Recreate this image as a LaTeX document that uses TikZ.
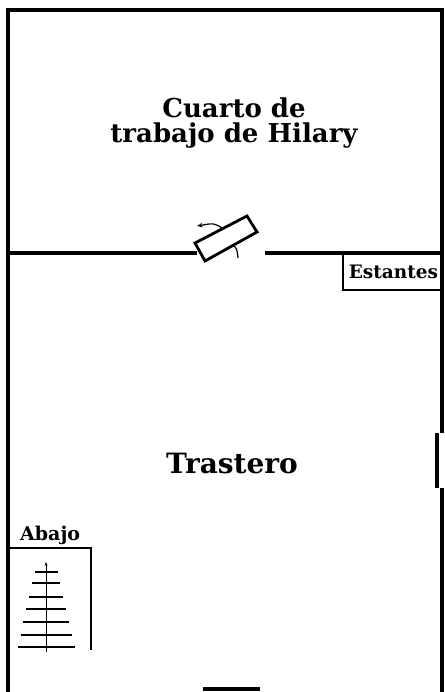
\documentclass[tikz,border=0pt]{standalone}
\usepackage{fontspec}
\setmainfont{DejaVu Serif}
\usetikzlibrary{arrows.meta}
\begin{document}
\begin{tikzpicture}[x=1pt,y=-1pt,
  wall/.style={line width=3.2pt,line cap=butt},
  mid/.style={line width=2.4pt},
  thinline/.style={line width=1.2pt},
  tread/.style={line width=1.2pt},
  label/.style={font=\bfseries\fontsize{26}{25}\selectfont,inner sep=0pt,anchor=base}]
\useasboundingbox (0,0) rectangle (444,692);
% outer walls
\draw[wall] (8,692) -- (8,10) -- (442,10) -- (442,433);
\draw[wall] (437,433) -- (437,488);
\draw[wall] (442,488) -- (442,692);
% dividing wall with door gap
\draw[wall] (8,253) -- (197,253);
\draw[wall] (265,253) -- (442,253);
% door leaf
\draw[line width=2.8pt,fill=white,line join=miter] (195,243) -- (247,216) -- (257,232) -- (205,261) -- cycle;
\draw[thinline,-{Stealth[length=5.5pt,width=4.5pt]}] (222,228) .. controls (214,223) .. (197,226);
\draw[thinline] (233,245) .. controls (237,249) .. (238,258);
% shelves
\draw[thinline] (343,253) -- (343,290) -- (442,290);
\node[font=\bfseries\fontsize{18.5}{18.5}\selectfont,inner sep=0pt,anchor=base] (est) at (393.5,278) {Estantes};
% stairs
\draw[mid] (8,548) -- (91,548) -- (91,650);
\node[font=\bfseries\fontsize{19}{19}\selectfont,inner sep=0pt,anchor=base west] (abajo) at (20,540) {Abajo};
\draw[line width=0.7pt,-{Stealth[length=4pt,width=3pt]}] (46,652) -- (46,562);
\foreach \y/\w in {572/11.5,583/14,597/17,609/20,622/23,635/25.5,647/28.5}
  \draw[tread] (46-\w,\y) -- (46+\w,\y);
% bottom opening
\draw[line width=3.2pt] (203,689) -- (260,689);
% labels
\node[label,align=center,anchor=north] (title) at (234,98) {Cuarto de\\trabajo de Hilary};
\node[label,font=\bfseries\fontsize{28}{28}\selectfont] (tr) at (232,473) {Trastero};
\end{tikzpicture}
\end{document}
